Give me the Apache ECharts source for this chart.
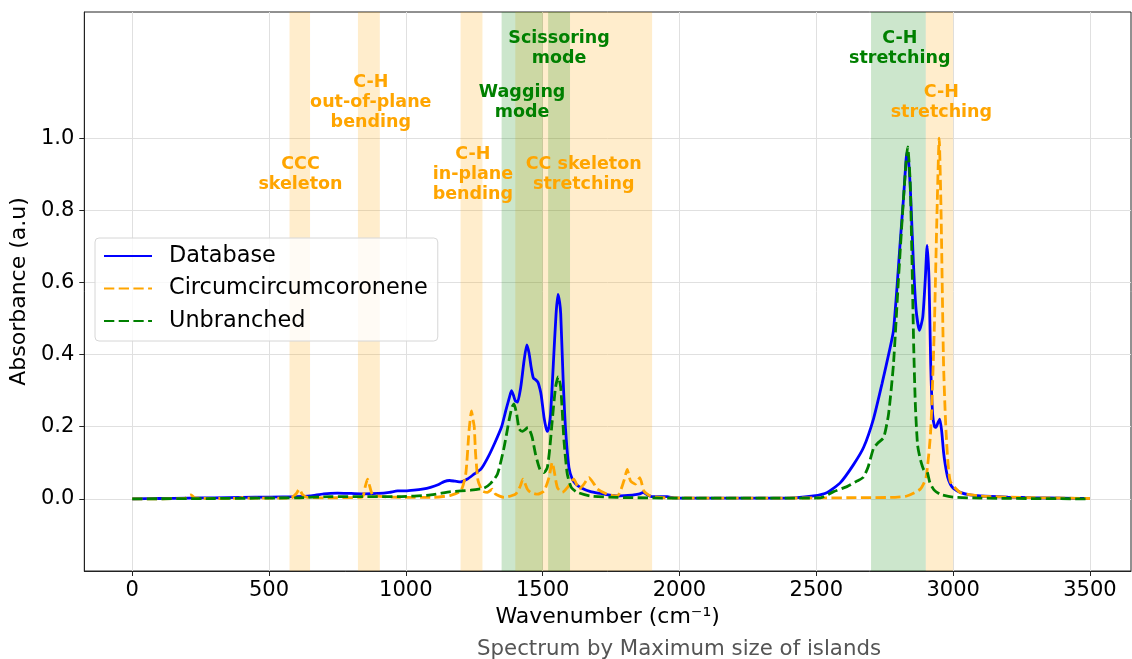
<!DOCTYPE html>
<html>
<head>
<meta charset="utf-8">
<title>Spectrum by Maximum size of islands</title>
<script src="https://cdn.jsdelivr.net/npm/echarts@6.0.0/dist/echarts.min.js"></script>
<style>
html, body { margin: 0; padding: 0; background: #fff; }
#chart { width: 1132px; height: 659px; }
</style>
</head>
<body>
<div id="chart"></div>
<script>
// spectra (wavenumber cm-1 / absorbance a.u.)
var dbX = [0, 100, 200, 300, 400, 500, 600, 650, 700, 750, 800, 850, 900, 940, 970, 1000, 1030, 1060, 1090, 1120, 1140, 1160, 1180, 1200, 1225, 1250, 1275, 1300, 1325, 1350, 1365, 1378, 1386, 1393, 1400, 1408, 1420, 1432, 1442, 1450, 1458, 1466, 1475, 1483, 1490, 1495, 1505, 1512, 1517, 1523, 1529, 1539, 1549, 1556, 1562, 1566, 1575, 1584, 1596, 1608, 1620, 1640, 1675, 1712, 1740, 1773, 1800, 1833, 1855, 1867, 1880, 1900, 1955, 1980, 2100, 2300, 2420, 2490, 2540, 2588, 2636, 2673, 2709, 2740, 2770, 2782, 2794, 2807, 2819, 2828, 2832, 2838, 2845, 2855, 2865, 2877, 2889, 2898, 2905, 2912, 2918, 2925, 2932, 2937, 2945, 2951, 2958, 2965, 2971, 2980, 2990, 3000, 3026, 3060, 3100, 3200, 3300, 3400, 3500];
var dbY = [0, 0.001, 0.002, 0.003, 0.004, 0.005, 0.006, 0.008, 0.014, 0.016, 0.015, 0.014, 0.015, 0.018, 0.022, 0.022, 0.024, 0.027, 0.032, 0.040, 0.048, 0.051, 0.049, 0.047, 0.055, 0.069, 0.083, 0.115, 0.155, 0.200, 0.244, 0.280, 0.300, 0.288, 0.272, 0.268, 0.310, 0.383, 0.427, 0.405, 0.365, 0.335, 0.330, 0.323, 0.305, 0.286, 0.226, 0.198, 0.187, 0.200, 0.235, 0.374, 0.513, 0.567, 0.545, 0.513, 0.328, 0.189, 0.087, 0.055, 0.042, 0.031, 0.020, 0.015, 0.011, 0.008, 0.009, 0.011, 0.014, 0.018, 0.012, 0.006, 0.006, 0.003, 0.002, 0.002, 0.003, 0.008, 0.018, 0.045, 0.095, 0.143, 0.222, 0.319, 0.420, 0.467, 0.578, 0.717, 0.837, 0.940, 0.962, 0.930, 0.837, 0.652, 0.522, 0.467, 0.504, 0.606, 0.703, 0.606, 0.374, 0.235, 0.200, 0.198, 0.212, 0.221, 0.189, 0.130, 0.096, 0.060, 0.040, 0.030, 0.018, 0.011, 0.008, 0.005, 0.003, 0.002, 0.001];

var ccX = [0, 190, 205, 215, 228, 300, 390, 404, 420, 580, 600, 611, 622, 640, 700, 840, 852, 860, 868, 880, 950, 1100, 1164, 1201, 1219, 1231, 1240, 1245, 1250, 1255, 1264, 1280, 1298, 1316, 1328, 1359, 1401, 1418, 1428, 1444, 1456, 1481, 1505, 1523, 1535, 1544, 1554, 1572, 1590, 1614, 1633, 1651, 1669, 1688, 1700, 1736, 1773, 1797, 1809, 1821, 1839, 1855, 1870, 1894, 1950, 2200, 2770, 2831, 2880, 2901, 2918, 2931, 2941, 2949, 2956, 2965, 2974, 2989, 3026, 3099, 3245, 3500];
var ccY = [0, 0.001, 0.008, 0.011, 0.003, 0.001, 0.002, 0.004, 0.002, 0.002, 0.015, 0.027, 0.012, 0.004, 0.003, 0.005, 0.035, 0.055, 0.035, 0.010, 0.005, 0.004, 0.010, 0.022, 0.069, 0.189, 0.244, 0.222, 0.200, 0.124, 0.050, 0.022, 0.018, 0.027, 0.013, 0.004, 0.013, 0.035, 0.055, 0.027, 0.018, 0.013, 0.022, 0.059, 0.101, 0.069, 0.031, 0.018, 0.031, 0.055, 0.027, 0.041, 0.059, 0.041, 0.027, 0.013, 0.008, 0.050, 0.082, 0.050, 0.041, 0.059, 0.022, 0.008, 0.003, 0.002, 0.004, 0.008, 0.027, 0.059, 0.189, 0.467, 0.791, 1.000, 0.791, 0.374, 0.189, 0.050, 0.018, 0.008, 0.004, 0.001];

var ubX = [0, 300, 600, 726, 970, 1091, 1164, 1237, 1286, 1310, 1335, 1359, 1377, 1388, 1395, 1405, 1414, 1426, 1436, 1446, 1454, 1462, 1474, 1490, 1505, 1517, 1526, 1535, 1547, 1557, 1566, 1578, 1590, 1605, 1627, 1675, 1773, 2000, 2400, 2515, 2563, 2612, 2650, 2672, 2690, 2709, 2725, 2746, 2764, 2782, 2800, 2819, 2834, 2843, 2850, 2856, 2862, 2870, 2880, 2893, 2905, 2915, 2930, 2955, 3000, 3100, 3500];
var ubY = [0, 0.001, 0.003, 0.006, 0.006, 0.011, 0.020, 0.024, 0.030, 0.043, 0.069, 0.143, 0.217, 0.255, 0.263, 0.235, 0.194, 0.187, 0.192, 0.198, 0.188, 0.170, 0.124, 0.082, 0.073, 0.087, 0.140, 0.217, 0.309, 0.339, 0.309, 0.161, 0.069, 0.031, 0.018, 0.008, 0.004, 0.002, 0.002, 0.003, 0.020, 0.034, 0.050, 0.060, 0.090, 0.140, 0.155, 0.170, 0.235, 0.374, 0.606, 0.837, 0.976, 0.880, 0.650, 0.420, 0.260, 0.150, 0.110, 0.080, 0.075, 0.045, 0.025, 0.012, 0.005, 0.002, 0];

var xTicks = [0, 500, 1000, 1500, 2000, 2500, 3000, 3500];
var yTicks = [0, 0.2, 0.4, 0.6, 0.8, 1.0];

// shaded vibration bands (cm-1)
var orangeBands = [[575, 650], [825, 905], [1200, 1280], [1400, 1900], [2900, 3000]];
var greenBands = [[1350, 1500], [1520, 1600], [2700, 2900]];

// band annotations
var noteText = ['CCC\nskeleton', 'C-H\nout-of-plane\nbending', 'C-H\nin-plane\nbending', 'Wagging\nmode', 'Scissoring\nmode', 'CC skeleton\nstretching', 'C-H\nstretching', 'C-H\nstretching'];
var noteX = [615, 872, 1245, 1425, 1560, 1650, 2805, 2957];
var noteY = [0.9, 1.1, 0.9, 1.1, 1.25, 0.9, 1.25, 1.1];
var noteGroup = ['orange', 'orange', 'orange', 'green', 'green', 'orange', 'green', 'orange'];

var colors = { orange: '#FFA500', green: '#008000' };

function pairs(xs, ys) {
    return xs.map(function (x, i) { return [x, ys[i]]; });
}

var bandAreas = [];
orangeBands.forEach(function (b) {
    bandAreas.push([{ xAxis: b[0], itemStyle: { color: 'rgba(255,165,0,0.2)' } }, { xAxis: b[1] }]);
});
greenBands.forEach(function (b) {
    bandAreas.push([{ xAxis: b[0], itemStyle: { color: 'rgba(0,128,0,0.2)' } }, { xAxis: b[1] }]);
});

var notes = noteText.map(function (t, i) {
    return {
        value: [noteX[i], noteY[i]],
        label: { formatter: t, color: colors[noteGroup[i]] }
    };
});

var chart = echarts.init(document.getElementById('chart'));
var font = 'DejaVu Sans';
var dash = [10.3, 4.4];

chart.setOption({
    animation: false,
    textStyle: { fontFamily: font },
    title: {
        text: 'Spectrum by Maximum size of islands',
        left: 674,
        textAlign: 'center',
        top: 634,
        textStyle: { fontFamily: font, fontSize: 21.3, fontWeight: 'normal', color: '#555' }
    },
    legend: {
        data: ['Database', 'Circumcircumcoronene', 'Unbranched'],
        orient: 'vertical',
        left: 95,
        top: 238,
        itemWidth: 48,
        itemHeight: 14,
        itemGap: 10.5,
        padding: [7, 10, 9, 8],
        backgroundColor: 'rgba(255,255,255,0.8)',
        borderColor: '#d6d6d6',
        borderWidth: 1,
        borderRadius: 4,
        itemStyle: { opacity: 0 },
        textStyle: { fontFamily: font, fontSize: 22.4, lineHeight: 22, color: '#000', padding: [0, 0, 0, 12] }
    },
    grid: {
        left: 84,
        right: 1,
        top: 12,
        bottom: 88,
        show: true,
        borderColor: '#222',
        borderWidth: 1,
        containLabel: false
    },
    xAxis: {
        type: 'value',
        min: -175,
        max: 3650,
        name: 'Wavenumber (cm\u207B\u00B9)',
        nameLocation: 'middle',
        nameGap: 33,
        nameTextStyle: { fontFamily: font, fontSize: 22, color: '#000' },
        axisLine: { show: true, onZero: false, lineStyle: { color: '#222', width: 1 } },
        axisTick: { show: true, length: 5, customValues: xTicks, lineStyle: { color: '#222' } },
        axisLabel: {
            customValues: xTicks, margin: 9, fontSize: 21, color: '#000', fontFamily: font,
            formatter: function (v) { return String(v); }
        },
        splitLine: { show: true, lineStyle: { color: '#e0e0e0', width: 1 } }
    },
    yAxis: {
        type: 'value',
        min: -0.2,
        max: 1.35,
        name: 'Absorbance (a.u)',
        nameLocation: 'middle',
        nameGap: 50,
        nameTextStyle: { fontFamily: font, fontSize: 22, color: '#000' },
        axisLine: { show: true, onZero: false, lineStyle: { color: '#222', width: 1 } },
        axisTick: { show: true, length: 5, customValues: yTicks, lineStyle: { color: '#222' } },
        axisLabel: {
            customValues: yTicks, margin: 10, fontSize: 21, color: '#000', fontFamily: font,
            formatter: function (v) { return v.toFixed(1); }
        },
        splitLine: { show: true, lineStyle: { color: '#e0e0e0', width: 1 } }
    },
    series: [
        {
            name: 'bands',
            type: 'line',
            data: [],
            silent: true,
            z: -1,
            markArea: { silent: true, data: bandAreas }
        },
        {
            name: 'Database',
            type: 'line',
            data: pairs(dbX, dbY),
            symbol: 'none',
            smooth: 0.2,
            z: 3,
            lineStyle: { color: '#0000FF', width: 2.8 },
            itemStyle: { color: '#0000FF' }
        },
        {
            name: 'Circumcircumcoronene',
            type: 'line',
            data: pairs(ccX, ccY),
            symbol: 'none',
            smooth: 0.2,
            z: 3,
            lineStyle: { color: '#FFA500', width: 2.8, type: dash },
            itemStyle: { color: '#FFA500' }
        },
        {
            name: 'Unbranched',
            type: 'line',
            data: pairs(ubX, ubY),
            symbol: 'none',
            smooth: 0.2,
            z: 3,
            lineStyle: { color: '#008000', width: 2.8, type: dash },
            itemStyle: { color: '#008000' }
        },
        {
            name: 'notes',
            type: 'scatter',
            data: notes,
            symbolSize: 1,
            silent: true,
            z: 4,
            itemStyle: { color: 'rgba(0,0,0,0)', opacity: 1 },
            label: {
                show: true,
                position: 'inside',
                fontFamily: font,
                fontSize: 17.5,
                fontWeight: 'bold',
                lineHeight: 20,
                align: 'center'
            }
        }
    ]
});
</script>
</body>
</html>
